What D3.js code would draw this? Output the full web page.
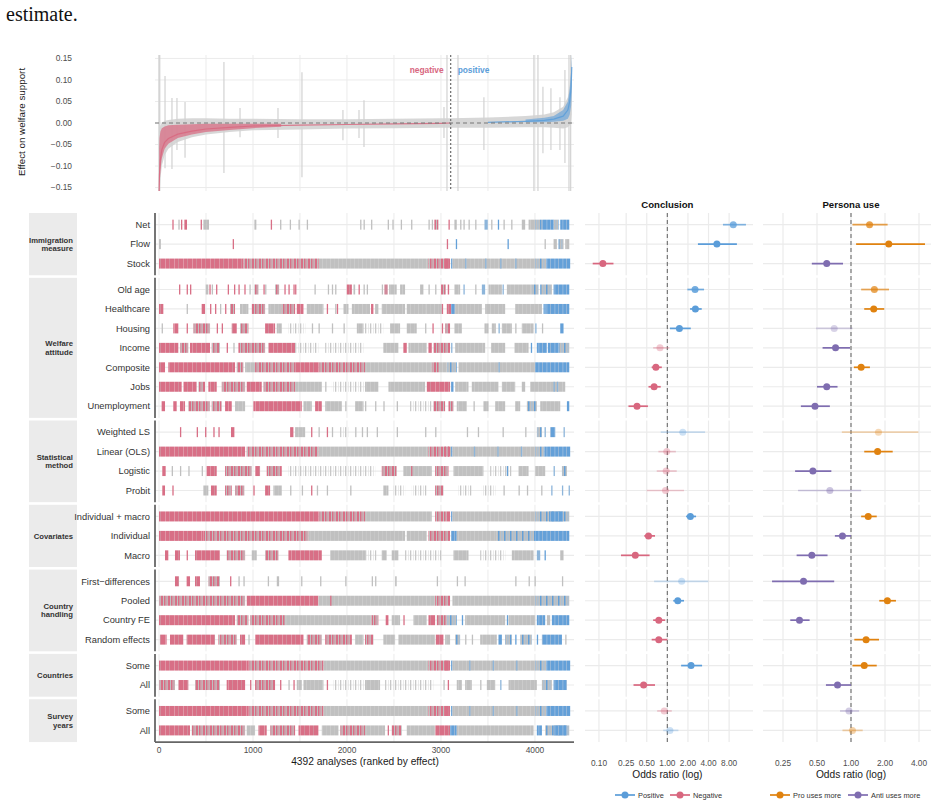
<!DOCTYPE html>
<html>
<head>
<meta charset="utf-8">
<script src="https://cdn.jsdelivr.net/npm/d3@7"></script>
<style>
body { margin: 0; background: #fff; }
text { font-family: "Liberation Sans", Arial, sans-serif; }
</style>
</head>
<body>
<script>
// ---- data ----
var nAnalyses = 4392;
var splitRank = 3103;

var groupNames = [["Immigration", "measure"], ["Welfare", "attitude"], ["Statistical", "method"], ["Covariates"], ["Country", "handling"], ["Countries"], ["Survey", "years"]];
var groupRows = [
  ["Net", "Flow", "Stock"],
  ["Old age", "Healthcare", "Housing", "Income", "Composite", "Jobs", "Unemployment"],
  ["Weighted LS", "Linear (OLS)", "Logistic", "Probit"],
  ["Individual + macro", "Individual", "Macro"],
  ["First\u2212differences", "Pooled", "Country FE", "Random effects"],
  ["Some", "All"],
  ["Some", "All"]
];

// odds ratios, row order as above
var conclOR = [9.2, 5.3, 0.114, 2.54, 2.57, 1.50, 0.78, 0.68, 0.64, 0.36, 1.68, 0.98, 0.96, 0.94, 2.17, 0.53, 0.34, 1.62, 1.42, 0.75, 0.75, 2.22, 0.45, 0.90, 1.09];
var conclLo = [6.5, 2.8, 0.081, 1.96, 2.15, 1.09, 0.62, 0.59, 0.53, 0.27, 0.80, 0.74, 0.70, 0.50, 1.88, 0.46, 0.21, 0.64, 1.22, 0.62, 0.59, 1.59, 0.32, 0.71, 0.87];
var conclHi = [14.1, 10.4, 0.163, 3.44, 3.18, 2.20, 1.07, 0.83, 0.80, 0.52, 3.56, 1.33, 1.37, 1.75, 2.63, 0.66, 0.55, 3.97, 1.75, 0.93, 1.00, 3.22, 0.66, 1.16, 1.45];
var conclAlpha = [0.75, 1, 1, 0.85, 1, 1, 0.35, 1, 1, 1, 0.3, 0.35, 0.35, 0.35, 1, 1, 1, 0.3, 1, 1, 1, 1, 1, 0.35, 0.3];

var persOR = [1.46, 2.16, 0.61, 1.61, 1.59, 0.71, 0.73, 1.23, 0.61, 0.48, 1.75, 1.72, 0.46, 0.65, 1.42, 0.84, 0.45, 0.38, 2.10, 0.35, 1.36, 1.31, 0.76, 0.96, 1.03];
var persLo = [1.03, 1.11, 0.45, 1.23, 1.31, 0.49, 0.56, 1.06, 0.50, 0.36, 0.83, 1.31, 0.32, 0.34, 1.23, 0.72, 0.33, 0.20, 1.78, 0.29, 1.07, 1.03, 0.60, 0.80, 0.84];
var persHi = [2.11, 4.52, 0.85, 2.17, 1.97, 1.03, 0.98, 1.47, 0.76, 0.65, 3.95, 2.34, 0.67, 1.23, 1.69, 1.00, 0.62, 0.71, 2.50, 0.43, 1.77, 1.69, 1.00, 1.18, 1.27];
var persAlpha = [0.75, 1, 1, 0.7, 1, 0.3, 1, 1, 1, 1, 0.3, 1, 1, 0.4, 1, 1, 1, 1, 1, 1, 1, 1, 1, 0.35, 0.35];

var conclTicks = [0.1, 0.25, 0.5, 1, 2, 4, 8];
var persTicks = [0.25, 0.5, 1, 2, 4];
var rankTicks = [0, 1000, 2000, 3000, 4000];
var effectTicks = [-0.15, -0.10, -0.05, 0, 0.05, 0.10, 0.15];

// ranked effect curve (top panel)
var effRank = [1, 5, 15, 30, 60, 100, 200, 350, 500, 750, 1000, 1500, 2000, 2500, 3000, 3100, 3500, 3900, 4100, 4200, 4300, 4350, 4370, 4385, 4392];
var effEst  = [-0.16, -0.12, -0.085, -0.062, -0.045, -0.036, -0.026, -0.019, -0.014, -0.010, -0.007, -0.005, -0.0035, -0.002, -0.0007, 0, 0.0015, 0.004, 0.006, 0.009, 0.016, 0.03, 0.05, 0.085, 0.13];
var effLo   = [-0.2, -0.17, -0.13, -0.10, -0.075, -0.060, -0.044, -0.033, -0.027, -0.021, -0.017, -0.015, -0.013, -0.012, -0.011, -0.011, -0.011, -0.010, -0.010, -0.011, -0.013, -0.010, -0.005, 0.0, 0.02];
var effHi   = [-0.03, -0.015, -0.005, 0.0, 0.005, 0.007, 0.010, 0.011, 0.011, 0.010, 0.010, 0.009, 0.009, 0.010, 0.011, 0.011, 0.013, 0.016, 0.020, 0.025, 0.038, 0.060, 0.090, 0.13, 0.16];
var negRank = [1, 5, 15, 30, 60, 100, 200, 350, 500, 750, 1000, 1300];
var negLo   = [-0.2, -0.15, -0.11, -0.082, -0.060, -0.048, -0.035, -0.027, -0.021, -0.016, -0.012, -0.009];
var negHi   = [-0.06, -0.035, -0.02, -0.012, -0.008, -0.005, -0.004, -0.003, -0.002, -0.002, -0.002, -0.002];
var posRank = [3900, 4100, 4200, 4300, 4350, 4370, 4385, 4392];
var posLo   = [0.002, 0.002, 0.003, 0.005, 0.010, 0.020, 0.040, 0.070];
var posHi   = [0.008, 0.012, 0.016, 0.030, 0.050, 0.080, 0.120, 0.160];
// long single confidence intervals [rank, lo, hi]
var whiskers = [[0, -0.2, 0.2], [8, -0.2, 0.2], [64, -0.105, 0.109], [138, -0.107, 0.058], [191, -0.063, 0.058], [277, -0.081, 0.049],
  [691, -0.116, 0.142], [862, -0.033, 0.035], [1266, -0.035, 0.035], [1521, -0.126, 0.118], [1957, -0.040, 0.030], [2128, -0.035, 0.030],
  [2181, -0.056, 0.053], [3032, -0.035, 0.037], [3064, -0.2, 0.2], [3181, -0.2, 0.2], [3457, -0.063, 0.060], [3989, -0.2, 0.2],
  [4032, -0.2, 0.2], [4085, -0.070, 0.084], [4170, -0.063, 0.081], [4266, -0.063, 0.060], [4319, -0.093, 0.123], [4362, -0.2, 0.2], [4380, -0.2, 0.2]];

// barcode rows: [from rank, to rank, kind]  n neg, m neg/grey, g grey, l sparse grey, b pos/grey, p pos
var barcodes = [
  // Net
  [[142,142,"n"],[206,206,"g"],[234,234,"n"],[270,298,"n"],[443,457,"n"],[472,532,"g"],[1015,1036,"g"],[1189,1189,"n"],[1288,1288,"g"],[1391,1391,"g"],[1484,1484,"g"],[1572,1572,"g"],[2140,2140,"g"],[2176,2176,"g"],
   [2256,2256,"g"],[2433,2433,"g"],[2483,2483,"g"],[2572,2572,"g"],[2682,2682,"g"],[2867,2867,"g"],[2902,2902,"g"],[2930,2973,"m"],[3080,3080,"n"],[3143,3168,"g"],[3204,3204,"g"],[3239,3239,"g"],[3293,3293,"g"],[3364,3364,"g"],[3463,3498,"b"],[3534,3534,"g"],[3605,3605,"p"],[3665,3665,"g"],[3747,3747,"g"],[3860,3896,"g"],[3932,4003,"g"],[4003,4074,"b"],[4074,4198,"p"],[4198,4251,"b"],[4269,4365,"p"]],
  // Flow
  [[0,20,"g"],[784,784,"n"],[3062,3062,"n"],[3158,3158,"p"],[3708,3708,"p"],[4102,4102,"g"],[4198,4233,"g"],[4251,4304,"b"],[4322,4365,"g"]],
  // Stock
  [[0,900,"n"],[900,1700,"m"],[1700,2867,"g"],[2867,3097,"m"],[3040,3080,"n"],[3108,3122,"p"],[3122,4003,"g"],[3257,3257,"b"],[3470,3470,"b"],[3630,3630,"b"],[3790,3790,"b"],[4003,4120,"b"],[4120,4375,"p"]],
  // Old age
  [[213,213,"n"],[294,294,"n"],[330,330,"n"],[497,525,"g"],[536,536,"n"],[561,561,"g"],[607,607,"n"],[731,731,"n"],[798,798,"n"],[845,845,"n"],[908,908,"n"],[962,962,"g"],[1015,1058,"m"],[1111,1111,"n"],[1129,1129,"g"],[1235,1278,"m"],[1334,1334,"n"],[1377,1377,"n"],[1430,1430,"n"],[1448,1448,"n"],[1654,1654,"g"],[1796,1796,"g"],[1839,1839,"g"],[1874,1874,"g"],[1998,2052,"n"],[2069,2087,"g"],[2123,2123,"n"],[2176,2176,"g"],
   [2210,2210,"g"],[2370,2370,"g"],[2398,2433,"m"],[2448,2529,"g"],[2565,2618,"g"],[2778,2813,"g"],[2867,2867,"g"],[2938,2938,"g"],[3001,3051,"m"],[3072,3087,"n"],[3143,3204,"g"],[3239,3239,"b"],[3364,3364,"g"],[3435,3470,"b"],[3506,3648,"g"],[3655,3655,"b"],[3701,3967,"g"],[3967,4038,"b"],[4056,4180,"b"],[4198,4365,"p"]],
  // Healthcare
  [[0,46,"n"],[294,294,"g"],[454,490,"n"],[543,543,"n"],[596,596,"n"],[649,649,"g"],[703,703,"n"],[756,809,"m"],[862,951,"g"],[987,1129,"m"],[1164,1306,"g"],[1306,1448,"m"],[1466,1537,"n"],[1572,1750,"g"],[1785,1785,"n"],[1874,1874,"g"],[1892,1892,"n"],[1963,2016,"g"],[2052,2194,"g"],
   [2192,2245,"g"],[2256,2281,"n"],[2299,2334,"g"],[2370,2618,"g"],[2636,2831,"g"],[2831,3009,"g"],[3009,3009,"n"],[3062,3108,"n"],[3108,3151,"p"],[3151,3435,"g"],[3470,3683,"g"],[3790,4074,"g"],[4091,4091,"p"],[4109,4365,"p"]],
  // Housing
  [[28,28,"g"],[152,206,"n"],[294,294,"n"],[365,543,"m"],[614,614,"n"],[667,667,"n"],[774,827,"n"],[862,951,"m"],[1129,1235,"n"],[1253,1306,"g"],[1377,1555,"l"],[1626,1626,"g"],[1697,1697,"g"],[1839,1839,"g"],[1963,1963,"g"],[2105,2176,"g"],
   [2192,2387,"l"],[2458,2565,"g"],[2636,2742,"g"],[2831,2831,"g"],[2909,2909,"n"],[3009,3009,"n"],[3044,3097,"m"],[3143,3222,"g"],[3463,3506,"g"],[3541,3584,"g"],[3612,3612,"b"],[3648,3754,"g"],[3790,3790,"g"],[3860,3985,"g"],[4003,4003,"b"],[4074,4074,"g"],[4269,4304,"p"]],
  // Income
  [[0,206,"n"],[223,312,"m"],[330,543,"n"],[561,649,"m"],[720,720,"n"],[791,791,"g"],[845,1129,"m"],[1164,1448,"n"],[1448,1697,"l"],[1768,2176,"l"],
   [2387,2547,"g"],[2600,2636,"n"],[2654,2849,"g"],[2867,2902,"n"],[2920,3097,"m"],[3108,3108,"b"],[3151,3470,"g"],[3534,3683,"g"],[3782,3932,"g"],[3956,3956,"p"],[4020,4127,"p"],[4137,4251,"p"],[4251,4365,"b"]],
  // Composite
  [[0,64,"n"],[99,809,"n"],[827,898,"m"],[916,1022,"g"],[1022,1448,"m"],[1448,1697,"n"],[1697,2192,"m"],
   [2192,2902,"g"],[2902,2980,"m"],[2980,3062,"g"],[3062,3168,"b"],[3186,4003,"g"],[3612,3612,"b"],[4003,4365,"p"]],
  // Jobs
  [[0,241,"n"],[259,401,"n"],[419,490,"m"],[525,614,"n"],[667,916,"m"],[933,1093,"n"],[1111,1448,"m"],[1448,1732,"g"],[1768,1768,"g"],[1839,2192,"l"],
   [2192,2334,"g"],[2441,2831,"g"],[2849,3097,"n"],[3108,3133,"p"],[3151,3293,"g"],[3328,3612,"g"],[3648,3790,"g"],[3860,3896,"g"],[3949,4322,"g"],[4198,4198,"b"],[4233,4233,"b"]],
  // Unemployment
  [[28,64,"n"],[152,188,"n"],[223,277,"n"],[312,543,"m"],[561,667,"m"],[703,774,"n"],[809,916,"g"],[1004,1519,"n"],[1537,1626,"g"],[1661,1732,"n"],[1768,1945,"g"],[1981,1981,"g"],[2087,2176,"g"],
   [2192,2192,"g"],[2299,2299,"g"],[2387,2387,"g"],[2529,2529,"g"],[2671,2902,"l"],[2920,3044,"m"],[3080,3133,"m"],[3168,3275,"g"],[3346,3346,"g"],[3452,3506,"g"],[3577,3683,"g"],[3790,3843,"g"],[3914,4020,"b"],[4056,4269,"g"],[4340,4365,"p"]],
  // Weighted LS
  [[223,223,"n"],[401,401,"n"],[490,490,"n"],[578,578,"n"],[632,632,"n"],[766,802,"n"],[1395,1430,"n"],[1448,1555,"g"],[1618,1618,"n"],[1697,1697,"g"],[1785,1785,"n"],[1839,1839,"g"],[1927,2016,"l"],[2087,2087,"g"],[2158,2158,"g"],
   [2210,2210,"g"],[2316,2316,"g"],[2529,2529,"g"],[2831,2831,"g"],[2938,2938,"g"],[3275,3275,"g"],[3392,3392,"g"],[3655,3655,"g"],[3896,3896,"g"],[4020,4074,"b"],[4102,4102,"b"],[4162,4216,"p"],[4304,4304,"b"]],
  // Linear (OLS)
  [[0,916,"n"],[933,1697,"m"],[1697,2867,"g"],[2867,3108,"m"],[3040,3040,"n"],[3072,3072,"n"],[3108,3122,"p"],[3122,4003,"g"],[3350,3350,"b"],[3600,3600,"b"],[3850,3850,"b"],[4003,4100,"b"],[4100,4375,"p"]],
  // Logistic
  [[35,71,"n"],[135,135,"g"],[223,223,"g"],[312,312,"g"],[454,454,"g"],[507,614,"n"],[703,987,"m"],[1022,1075,"n"],[1146,1306,"m"],[1377,2192,"l"],
   [2192,2299,"l"],[2370,2529,"m"],[2600,2902,"g"],[2682,2682,"n"],[2938,3080,"m"],[3133,3452,"g"],[3523,3754,"l"],[3701,3701,"p"],[3825,3932,"g"],[4003,4109,"g"],[4198,4198,"b"],[4287,4340,"b"]],
  // Probit
  [[35,64,"n"],[142,142,"n"],[472,525,"g"],[553,614,"n"],[703,774,"m"],[809,908,"m"],[1004,1004,"n"],[1129,1182,"n"],[1217,1306,"g"],[1395,1395,"g"],[1519,1519,"g"],[1618,1618,"n"],[1679,1679,"g"],[1785,1785,"g"],[2034,2034,"g"],
   [2387,2441,"g"],[2494,2618,"l"],[2689,2849,"l"],[2938,3026,"m"],[3186,3328,"l"],[3435,3577,"l"],[3665,3665,"g"],[3825,3825,"g"],[3914,3914,"g"],[4066,4066,"g"],[4173,4173,"b"],[4287,4287,"b"],[4358,4358,"b"]],
  // Individual + macro
  [[0,1697,"n"],[1697,2192,"m"],[2192,2902,"g"],[2938,3062,"m"],[3062,3097,"n"],[3108,3108,"p"],[3122,4003,"g"],[4003,4365,"b"],[4150,4300,"p"]],
  // Individual
  [[0,472,"n"],[472,1590,"m"],[1590,2192,"g"],[2192,2618,"g"],[2636,2849,"g"],[2867,3097,"m"],[3108,3168,"p"],[3168,3594,"g"],[3594,4003,"b"],[4003,4365,"p"]],
  // Macro
  [[64,99,"n"],[170,223,"n"],[294,294,"n"],[383,649,"n"],[720,916,"m"],[987,1040,"g"],[1129,1271,"m"],[1377,1732,"n"],[1821,2192,"g"],
   [2192,2316,"l"],[2370,2423,"g"],[2476,2547,"g"],[2618,3009,"l"],[3133,3293,"g"],[3417,3683,"l"],[3754,3985,"g"],[4020,4056,"b"],[4102,4102,"p"],[4269,4304,"g"]],
  // First-differences
  [[170,213,"n"],[294,330,"n"],[383,436,"n"],[525,649,"m"],[756,756,"n"],[845,845,"g"],[898,898,"g"],[1157,1157,"g"],[1253,1278,"g"],[1512,1512,"g"],[1714,1714,"g"],[1981,1981,"g"],
   [2263,2263,"g"],[2299,2299,"g"],[2512,2529,"g"],[2955,2955,"g"],[3168,3168,"g"],[3250,3250,"g"],[3790,3790,"g"],[3932,3932,"g"],[3995,3995,"g"],[4287,4287,"g"]],
  // Pooled
  [[0,916,"m"],[933,1697,"n"],[1697,2938,"g"],[1821,1821,"n"],[2938,3097,"m"],[3122,4003,"g"],[4003,4365,"b"]],
  // Country FE
  [[0,809,"n"],[827,951,"m"],[969,1342,"m"],[1342,2192,"g"],[2192,2263,"g"],[2263,2334,"m"],[2412,2441,"n"],[2476,2565,"g"],[2600,2600,"n"],[2707,2849,"g"],[2867,2938,"n"],[2955,3062,"m"],[3062,3168,"b"],[3222,3222,"p"],[3257,3683,"g"],[3701,3701,"p"],[3719,4003,"g"],[4020,4109,"p"],[4127,4162,"g"],[4180,4365,"p"]],
  // Random effects
  [[10,81,"n"],[117,259,"n"],[294,596,"n"],[632,827,"m"],[862,916,"n"],[951,951,"g"],[1022,1537,"n"],[1572,1732,"m"],[1768,2052,"m"],[2087,2176,"g"],
   [2192,2281,"m"],[2387,2512,"g"],[2547,2938,"g"],[2945,3026,"n"],[3044,3097,"g"],[3151,3204,"b"],[3257,3257,"g"],[3328,3328,"g"],[3417,3594,"g"],[3612,3648,"p"],[3683,3754,"b"],[3790,3790,"p"],[3843,3967,"b"],[4020,4020,"p"],[4074,4287,"p"],[4322,4322,"g"]],
  // Countries: Some
  [[0,950,"n"],[950,1750,"m"],[1750,2867,"g"],[2867,3097,"m"],[3040,3080,"n"],[3108,3122,"p"],[3122,4003,"g"],[3300,3300,"b"],[3550,3550,"b"],[3800,3800,"b"],[4003,4120,"b"],[4120,4375,"p"]],
  // Countries: All
  [[0,170,"m"],[206,312,"n"],[383,649,"m"],[720,916,"n"],[969,969,"n"],[1022,1235,"m"],[1288,1288,"n"],[1377,1377,"g"],[1430,1430,"n"],[1466,1519,"g"],[1537,1750,"g"],[1785,1785,"n"],[1856,2192,"l"],
   [2192,2352,"g"],[2405,2920,"l"],[3026,3026,"g"],[3072,3072,"n"],[3168,3222,"g"],[3257,3328,"g"],[3417,3417,"g"],[3488,3577,"g"],[3630,3630,"b"],[3719,4020,"g"],[4074,4180,"b"],[4198,4340,"p"]],
  // Survey years: Some
  [[0,950,"n"],[950,1750,"m"],[1750,2867,"g"],[2867,3097,"m"],[3040,3080,"n"],[3108,3122,"p"],[3122,4003,"g"],[3300,3300,"b"],[3550,3550,"b"],[3800,3800,"b"],[4003,4120,"b"],[4120,4375,"p"]],
  // Survey years: All
  [[0,330,"n"],[348,916,"m"],[933,1022,"g"],[1058,1146,"n"],[1182,1448,"m"],[1484,1697,"n"],[1732,1910,"g"],[1927,2192,"m"],
   [2192,2405,"g"],[2433,2433,"n"],[2476,2583,"m"],[2636,2938,"g"],[2938,3097,"n"],[3097,3168,"p"],[3168,3985,"g"],[4020,4074,"p"],[4109,4365,"b"],[4200,4340,"p"]]
];

// ---- styles ----
var pink = "#d8677f", blue = "#5b9dd9", orange = "#e0820f", purple = "#7f6db0";
var barPink = "#d86f86", barGrey = "#c0c0c0", barBlue = "#64a0d8";
var gridCol = "#ebebeb";
var tickCol = "#4d4d4d";

var svg = d3.select("body").append("svg")
  .attr("width", 937).attr("height", 806);
var defs = svg.append("defs");

// stripe fills for the dense, mixed stretches of each barcode
function stripes(id, w, parts) {
  var p = defs.append("pattern").attr("id", id).attr("patternUnits", "userSpaceOnUse")
    .attr("width", w).attr("height", 20);
  parts.forEach(function (s) {
    p.append("rect").attr("x", s[0]).attr("y", 0).attr("width", s[1]).attr("height", 20).attr("fill", s[2]);
  });
}
stripes("st-n", 9, [[0, 9, barPink], [3, 0.8, "#e3a0ae"], [7, 0.6, "#cfa0aa"]]);
stripes("st-m", 7, [[0, 7, barGrey], [0, 2, barPink], [3, 1.5, barPink], [5.5, 0.8, "#d78a9c"]]);
stripes("st-g", 8, [[0, 8, barGrey], [2, 0.7, "#d0d0d0"], [6, 0.5, "#cccccc"]]);
stripes("st-l", 5, [[0, 1.3, "#c8c8c8"], [3, 0.6, "#dcdcdc"]]);
stripes("st-b", 6, [[0, 6, barGrey], [0, 1.5, barBlue], [3.5, 0.8, "#9cc0e2"]]);
stripes("st-p", 8, [[0, 8, barBlue], [2.5, 0.8, "#9dbfe0"], [6, 0.6, "#b0c4d8"]]);
var barFill = { n: "url(#st-n)", m: "url(#st-m)", g: "url(#st-g)", l: "url(#st-l)", b: "url(#st-b)", p: "url(#st-p)" };
var tickFill = { n: barPink, m: "#d0899a", g: barGrey, l: "#cfcfcf", b: "#8db5da", p: barBlue };

svg.append("text").attr("x", 6).attr("y", 21)
  .style("font-family", "'Liberation Serif', 'Times New Roman', serif")
  .style("font-size", "20px").attr("fill", "#111").text("estimate.");

// ---- scales ----
var x = d3.scaleLinear().domain([0, nAnalyses]).range([159, 571.8]);
var yEff = d3.scaleLinear().domain([-0.158, 0.158]).range([191, 55]);
var plotL = 155, plotR = 574;

// ---- top panel ----
var topG = svg.append("g");
defs.append("clipPath").attr("id", "topclip").append("rect")
  .attr("x", plotL).attr("y", 55).attr("width", plotR - plotL).attr("height", 136);

effectTicks.forEach(function (t) {
  topG.append("line").attr("x1", plotL).attr("x2", plotR).attr("y1", yEff(t)).attr("y2", yEff(t))
    .attr("stroke", gridCol).attr("stroke-width", 1);
  topG.append("text").attr("x", 72).attr("y", yEff(t)).attr("dy", "0.35em")
    .attr("text-anchor", "end").attr("fill", tickCol).style("font-size", "8.4px")
    .text(d3.format(".2f")(t).replace("-", "\u2212"));
});
d3.range(0, 4500, 500).forEach(function (r) {
  topG.append("line").attr("x1", x(r)).attr("x2", x(r)).attr("y1", 55).attr("y2", 191)
    .attr("stroke", gridCol).attr("stroke-width", 1);
});

var cl = topG.append("g").attr("clip-path", "url(#topclip)");
var effData = effRank.map(function (r, i) { return { r: r, est: effEst[i], lo: effLo[i], hi: effHi[i] }; });
cl.append("path").datum(effData)
  .attr("d", d3.area().x(function (d) { return x(d.r); }).y0(function (d) { return yEff(d.lo); }).y1(function (d) { return yEff(d.hi); }))
  .attr("fill", "#d3d3d3").attr("opacity", 0.9);

cl.selectAll("line.wh").data(whiskers).enter().append("line")
  .attr("x1", function (d) { return x(d[0]); }).attr("x2", function (d) { return x(d[0]); })
  .attr("y1", function (d) { return yEff(d[1]); }).attr("y2", function (d) { return yEff(d[2]); })
  .attr("stroke", "#d2d2d2").attr("stroke-width", 1.2);

var negData = negRank.map(function (r, i) { return { r: r, lo: negLo[i], hi: negHi[i] }; });
cl.append("path").datum(negData)
  .attr("d", d3.area().x(function (d) { return x(d.r); }).y0(function (d) { return yEff(d.lo); }).y1(function (d) { return yEff(d.hi); }))
  .attr("fill", pink).attr("opacity", 0.7);
var posData = posRank.map(function (r, i) { return { r: r, lo: posLo[i], hi: posHi[i] }; });
cl.append("path").datum(posData)
  .attr("d", d3.area().x(function (d) { return x(d.r); }).y0(function (d) { return yEff(d.lo); }).y1(function (d) { return yEff(d.hi); }))
  .attr("fill", blue).attr("opacity", 0.6);

var estLine = d3.line().x(function (d) { return x(d.r); }).y(function (d) { return yEff(d.est); });
cl.append("path").datum(effData.filter(function (d) { return d.r <= splitRank; }))
  .attr("d", estLine).attr("fill", "none").attr("stroke", pink).attr("stroke-width", 1.2).attr("opacity", 0.85);
cl.append("path").datum(effData.filter(function (d) { return d.r >= splitRank; }))
  .attr("d", estLine).attr("fill", "none").attr("stroke", blue).attr("stroke-width", 1.2).attr("opacity", 0.85);

topG.append("line").attr("x1", plotL).attr("x2", plotR).attr("y1", yEff(0)).attr("y2", yEff(0))
  .attr("stroke", "#777").attr("stroke-width", 1).attr("stroke-dasharray", "4,3");
topG.append("line").attr("x1", x(splitRank)).attr("x2", x(splitRank)).attr("y1", 55).attr("y2", 191)
  .attr("stroke", "#777").attr("stroke-width", 1.3).attr("stroke-dasharray", "2,2");
topG.append("text").attr("x", x(splitRank) - 7).attr("y", 73).attr("text-anchor", "end")
  .attr("fill", pink).style("font-size", "8.4px").style("font-weight", "bold").text("negative");
topG.append("text").attr("x", x(splitRank) + 7).attr("y", 73).attr("text-anchor", "start")
  .attr("fill", blue).style("font-size", "8.4px").style("font-weight", "bold").text("positive");

topG.append("text").attr("transform", "translate(25,122) rotate(-90)").attr("text-anchor", "middle")
  .attr("fill", "#1a1a1a").style("font-size", "9.8px").text("Effect on welfare support");

// ---- facet layout ----
var facetTop = 213, gap = 2.6, step = 19.45;
var facets = [];
var yy = facetTop;
groupRows.forEach(function (rows, gi) {
  var h = (rows.length + 0.2) * step;
  var sc = d3.scalePoint().domain(d3.range(rows.length)).range([yy, yy + h]).padding(0.6);
  facets.push({ top: yy, bottom: yy + h, rows: rows, name: groupNames[gi], y: sc });
  yy += h + gap;
});
var rowY = [];
facets.forEach(function (f) { f.rows.forEach(function (r, i) { rowY.push(f.y(i)); }); });

// ---- barcode panel ----
var bc = svg.append("g");
facets.forEach(function (f) {
  // strip
  bc.append("rect").attr("x", 29).attr("y", f.top).attr("width", 48).attr("height", f.bottom - f.top).attr("fill", "#ebebeb");
  var mid = (f.top + f.bottom) / 2;
  var lh = 8.6;
  f.name.forEach(function (s, k) {
    bc.append("text").attr("x", 73).attr("y", mid + (k - (f.name.length - 1) / 2) * lh).attr("dy", "0.35em")
      .attr("text-anchor", "end").attr("fill", "#333").style("font-size", "7.7px").style("font-weight", "bold").text(s);
  });
  d3.range(0, 4500, 500).forEach(function (r) {
    bc.append("line").attr("x1", x(r)).attr("x2", x(r)).attr("y1", f.top).attr("y2", f.bottom)
      .attr("stroke", gridCol).attr("stroke-width", 1);
  });
  f.rows.forEach(function (r, i) {
    bc.append("line").attr("x1", plotL).attr("x2", plotR).attr("y1", f.y(i)).attr("y2", f.y(i))
      .attr("stroke", gridCol).attr("stroke-width", 1.2);
    bc.append("text").attr("x", 150).attr("y", f.y(i)).attr("dy", "0.35em").attr("text-anchor", "end")
      .attr("fill", "#333").style("font-size", "9.3px").text(r);
  });
  bc.append("line").attr("x1", plotL).attr("x2", plotL).attr("y1", f.top).attr("y2", f.bottom)
    .attr("stroke", "#666").attr("stroke-width", 1.8);
});

barcodes.forEach(function (segs, i) {
  bc.selectAll(null).data(segs).enter().append("rect")
    .attr("x", function (d) { return x(d[0]); })
    .attr("width", function (d) { return Math.max(x(d[1]) - x(d[0]), 1.3); })
    .attr("y", rowY[i] - 5).attr("height", 10)
    .attr("fill", function (d) { return d[1] - d[0] < 40 ? tickFill[d[2]] : barFill[d[2]]; });
});

var lastF = facets[facets.length - 1];
bc.append("line").attr("x1", plotL).attr("x2", plotR).attr("y1", lastF.bottom).attr("y2", lastF.bottom)
  .attr("stroke", "#666").attr("stroke-width", 1.8);
rankTicks.forEach(function (t) {
  bc.append("text").attr("x", x(t)).attr("y", lastF.bottom + 8).attr("dy", "0.35em").attr("text-anchor", "middle")
    .attr("fill", tickCol).style("font-size", "8.4px").text(t);
});
bc.append("text").attr("x", 365).attr("y", 765).attr("text-anchor", "middle")
  .attr("fill", "#1a1a1a").style("font-size", "10.2px").text(nAnalyses + " analyses (ranked by effect)");

// ---- odds ratio panels ----
function orPanel(opt) {
  var g = svg.append("g");
  var xs = d3.scaleLog().base(2).domain(opt.domain).range([opt.left, opt.right]);
  g.append("text").attr("x", xs(1)).attr("y", 208).attr("text-anchor", "middle").attr("fill", "#111")
    .style("font-size", "9.6px").style("font-weight", "bold").text(opt.title);
  facets.forEach(function (f) {
    opt.ticks.forEach(function (t) {
      g.append("line").attr("x1", xs(t)).attr("x2", xs(t)).attr("y1", f.top).attr("y2", f.bottom)
        .attr("stroke", gridCol).attr("stroke-width", 1.2);
    });
    f.rows.forEach(function (r, i) {
      g.append("line").attr("x1", opt.left).attr("x2", opt.right).attr("y1", f.y(i)).attr("y2", f.y(i))
        .attr("stroke", gridCol).attr("stroke-width", 1.2);
    });
  });
  g.append("line").attr("x1", xs(1)).attr("x2", xs(1)).attr("y1", facetTop).attr("y2", lastF.bottom)
    .attr("stroke", "#777").attr("stroke-width", 1.2).attr("stroke-dasharray", "4,3");
  var pts = opt.or.map(function (v, i) { return { v: v, lo: opt.lo[i], hi: opt.hi[i], a: opt.alpha[i], y: rowY[i] }; });
  g.selectAll("line.ci").data(pts).enter().append("line")
    .attr("x1", function (d) { return xs(d.lo); }).attr("x2", function (d) { return xs(d.hi); })
    .attr("y1", function (d) { return d.y; }).attr("y2", function (d) { return d.y; })
    .attr("stroke", function (d) { return d.v > 1 ? opt.colHi : opt.colLo; })
    .attr("stroke-opacity", function (d) { return d.a; }).attr("stroke-width", 1.7);
  g.selectAll("circle").data(pts).enter().append("circle")
    .attr("cx", function (d) { return xs(d.v); }).attr("cy", function (d) { return d.y; }).attr("r", 3.5)
    .attr("fill", function (d) { return d.v > 1 ? opt.colHi : opt.colLo; })
    .attr("fill-opacity", function (d) { return d.a; });
  opt.ticks.forEach(function (t) {
    g.append("text").attr("x", xs(t)).attr("y", 763).attr("dy", "0.35em").attr("text-anchor", "middle")
      .attr("fill", tickCol).style("font-size", "8.3px").text(d3.format(".2f")(t));
  });
  g.append("text").attr("x", xs(1)).attr("y", 778).attr("text-anchor", "middle")
    .attr("fill", "#1a1a1a").style("font-size", "10.2px").text("Odds ratio (log)");
  opt.legend.forEach(function (l) {
    g.append("line").attr("x1", l.cx - 10).attr("x2", l.cx + 10).attr("y1", 795).attr("y2", 795)
      .attr("stroke", l.col).attr("stroke-width", 1.7);
    g.append("circle").attr("cx", l.cx).attr("cy", 795).attr("r", 3.5).attr("fill", l.col);
    g.append("text").attr("x", l.cx + 13).attr("y", 795).attr("dy", "0.35em").attr("fill", "#333")
      .style("font-size", "7.4px").text(l.label);
  });
}

orPanel({
  title: "Conclusion", left: 585, right: 753, domain: [Math.pow(2, -4), Math.pow(2, 4.16)],
  ticks: conclTicks, or: conclOR, lo: conclLo, hi: conclHi, alpha: conclAlpha, colHi: blue, colLo: pink,
  legend: [{ cx: 625, col: blue, label: "Positive" }, { cx: 680, col: pink, label: "Negative" }]
});
orPanel({
  title: "Persona use", left: 763, right: 931, domain: [Math.pow(2, -2.588), Math.pow(2, 2.353)],
  ticks: persTicks, or: persOR, lo: persLo, hi: persHi, alpha: persAlpha, colHi: orange, colLo: purple,
  legend: [{ cx: 780, col: orange, label: "Pro uses more" }, { cx: 858, col: purple, label: "Anti uses more" }]
});
</script>
</body>
</html>
